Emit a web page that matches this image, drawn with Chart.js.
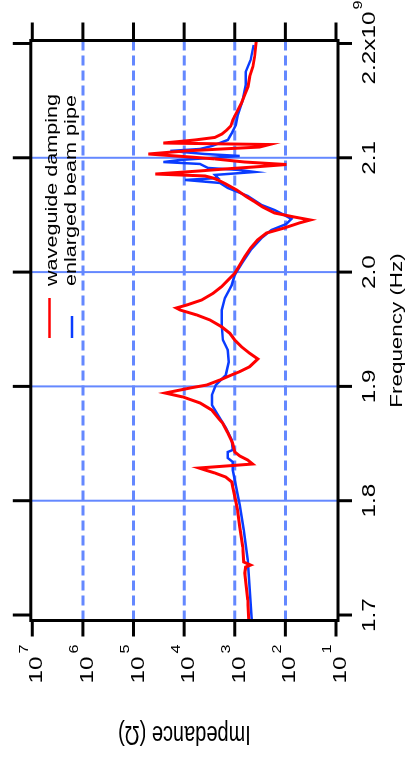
<!DOCTYPE html>
<html>
<head>
<meta charset="utf-8">
<script src="https://cdn.jsdelivr.net/npm/chart.js@4.4.1/dist/chart.umd.min.js"></script>
<style>
    html, body { margin: 0; padding: 0; background: #fff; overflow: hidden; }
    #wrap {
        position: absolute; left: 0; top: 0; width: 760px; height: 406px;
        transform-origin: 0 0; transform: translate(0, 760px) rotate(-90deg);
    }
</style>
</head>
<body>
<div id="wrap"><canvas id="impChart" width="760" height="406"></canvas></div>
<script>
const freqTicks = [1.7, 1.8, 1.9, 2.0, 2.1, 2.2];
const freqTickLabels = ['1.7', '1.8', '1.9', '2.0', '2.1', '2.2x10'];
const freqTickExponent = '9';
const freqGrid = [1.8, 1.9, 2.0, 2.1];
const impTicks = [1e1, 1e2, 1e3, 1e4, 1e5, 1e6, 1e7];
const impExponents = ['1', '2', '3', '4', '5', '6', '7'];
const impGrid = [1e2, 1e3, 1e4, 1e5, 1e6];
const seriesNames = ['waveguide damping', 'enlarged beam pipe'];
const xTitle = 'Frequency (Hz)';
const yTitle = 'Impedance (\u03A9)';

// frequency in GHz, impedance in ohm
const wgFreq = [1.6956, 1.7131, 1.7367, 1.7420, 1.7437, 1.7464, 1.7595, 1.7770, 1.7919, 1.7997,
    1.8120, 1.8164, 1.8207, 1.8242, 1.8269, 1.8286, 1.8321, 1.8356, 1.8391, 1.8426,
    1.8505, 1.8592, 1.8680, 1.8706, 1.8794, 1.8855, 1.8907, 1.8942, 1.8986, 1.9012,
    1.9056, 1.9100, 1.9129, 1.9172, 1.9240, 1.9290, 1.9347, 1.9406, 1.9465, 1.9522,
    1.9581, 1.9625, 1.9668, 1.9686, 1.9712, 1.9756, 1.9815, 1.9872, 1.9931, 1.9990,
    2.0047, 2.0135, 2.0211, 2.0281, 2.0342, 2.0386, 2.0430, 2.0456, 2.0482, 2.0517,
    2.0570, 2.0616, 2.0660, 2.0718, 2.0771, 2.0806, 2.0823, 2.0841, 2.0858, 2.0885,
    2.0902, 2.0920, 2.0941, 2.0963, 2.0990, 2.1007, 2.1033, 2.1060, 2.1077, 2.1094,
    2.1116, 2.1129, 2.1156, 2.1178, 2.1208, 2.1243, 2.1278, 2.1331, 2.1403, 2.1477,
    2.1549, 2.1622, 2.1710, 2.1797, 2.1885, 2.2022];
const wgImp = [531, 556, 637, 609, 486, 666, 697, 798, 885, 956,
    1094, 1145, 1502, 2466, 3876, 5080, 444, 556, 798, 1000,
    1109, 1372, 1743, 1968, 2864, 4858, 10470, 23590, 7630, 3590,
    1968, 1161, 798, 508, 349, 508, 739, 1000, 1253, 1824,
    3090, 5640, 11970, 14350, 8850, 4500, 2663, 1824, 1353, 1000,
    835, 637, 486, 354, 236, 105, 53, 32.3, 66.6, 164,
    282, 405, 590, 914, 1502, 2154, 2700, 3876, 37070, 4858,
    1571, 405, 95.5, 637, 2466, 7630, 50800, 9550, 1799, 323,
    206, 25800, 6085, 2466, 1799, 1435, 1197, 1094, 902, 739,
    637, 548, 508, 438, 405, 376];

const bpFreq = [1.6956, 1.7219, 1.7481, 1.7744, 1.7962, 1.8137, 1.8269, 1.8339, 1.8374, 1.8426,
    1.8444, 1.8531, 1.8636, 1.8750, 1.8837, 1.8925, 1.9012, 1.9100, 1.9213, 1.9318,
    1.9406, 1.9537, 1.9668, 1.9773, 1.9887, 1.9975, 2.0088, 2.0193, 2.0298, 2.0368,
    2.0421, 2.0465, 2.0508, 2.0543, 2.0587, 2.0666, 2.0736, 2.0780, 2.0806, 2.0823,
    2.0850, 2.0876, 2.0893, 2.0911, 2.0946, 2.0963, 2.0981, 2.1016, 2.1033, 2.1060,
    2.1077, 2.1103, 2.1156, 2.1217, 2.1287, 2.1374, 2.1506, 2.1637, 2.1751, 2.1856, 2.1987];
const bpImp = [464, 508, 556, 666, 798, 956, 1094, 1094, 1372, 1372,
    1094, 1145, 1502, 2154, 2825, 2825, 2360, 1502, 1312, 1372,
    1718, 1799, 1799, 1571, 1145, 1000, 697, 486, 296, 188,
    95.5, 76.3, 115, 164, 296, 556, 1372, 1968, 9550, 2154,
    2466, 405, 798, 3380, 4858, 25800, 11970, 798, 3876, 18820,
    4858, 2825, 1372, 1145, 956, 873, 697, 609, 609, 486, 424];

const gridBlue = '#6488ff';
const fontName = '"Liberation Sans", Arial, sans-serif';
const stretch = 1.35;

// text from the old plot is wider than normal, so draw it stretched
function drawText(ctx, text, x, y, size, sx, align) {
    ctx.save();
    ctx.font = `${size}px ${fontName}`;
    ctx.translate(x, y);
    ctx.scale(sx, 1);
    ctx.textAlign = align;
    ctx.textBaseline = 'alphabetic';
    ctx.fillText(text, 0, 0);
    ctx.restore();
}

function textWidth(ctx, text, size, sx) {
    ctx.font = `${size}px ${fontName}`;
    return ctx.measureText(text).width * sx;
}

function seg(ctx, x1, y1, x2, y2) {
    ctx.beginPath();
    ctx.moveTo(x1, y1);
    ctx.lineTo(x2, y2);
    ctx.stroke();
}

const frameDeco = {
    id: 'frameDeco',
    beforeDatasetsDraw(chart) {
        const { ctx, chartArea: a, scales: { x, y } } = chart;
        ctx.save();
        ctx.strokeStyle = gridBlue;
        ctx.lineWidth = 2;
        freqGrid.forEach(f => {
            const px = x.getPixelForValue(f);
            seg(ctx, px, a.top, px, a.bottom);
        });
        ctx.lineWidth = 3;
        ctx.setLineDash([10, 5]);
        impGrid.forEach(z => {
            const py = y.getPixelForValue(z);
            seg(ctx, a.left, py, a.right, py);
        });
        ctx.restore();
    },
    afterDatasetsDraw(chart) {
        const { ctx, chartArea: a, scales: { x, y } } = chart;
        ctx.save();
        ctx.strokeStyle = '#000';
        ctx.fillStyle = '#000';
        ctx.lineWidth = 3;
        ctx.strokeRect(a.left, a.top, a.right - a.left, a.bottom - a.top);

        freqTicks.forEach((f, i) => {
            const px = x.getPixelForValue(f);
            seg(ctx, px, a.bottom, px, a.bottom + 14);
            seg(ctx, px, a.top, px, a.top - 18);
            const base = freqTickLabels[i];
            const exp = i === freqTicks.length - 1 ? freqTickExponent : '';
            const wb = textWidth(ctx, base, 18, stretch);
            const we = exp ? textWidth(ctx, exp, 12, stretch) : 0;
            const start = px - (wb + we) / 2;
            drawText(ctx, base, start, a.bottom + 37, 18, stretch, 'left');
            if (exp) {
                drawText(ctx, exp, start + wb + 2, a.bottom + 24, 12, stretch, 'left');
            }
        });

        impTicks.forEach((z, i) => {
            const py = y.getPixelForValue(z);
            seg(ctx, a.left, py, a.left - 16, py);
            seg(ctx, a.right, py, a.right + 18, py);
            drawText(ctx, '10', a.left - 36, py + 10, 18, stretch, 'right');
            drawText(ctx, impExponents[i], a.left - 33, py - 4.5, 12, stretch, 'left');
        });

        // axis titles
        drawText(ctx, xTitle, (a.left + a.right) / 2, a.bottom + 63.5, 16, 1.4, 'center');
        ctx.save();
        ctx.translate(34.3, (a.top + a.bottom) / 2);
        ctx.rotate(-Math.PI / 2);
        ctx.scale(1, stretch);
        ctx.font = `20px ${fontName}`;
        ctx.textAlign = 'center';
        ctx.fillText(yTitle, 0, 0);
        ctx.restore();

        // legend inside the plot
        const colors = chart.data.datasets.map(d => d.borderColor);
        const lineEnds = [462, 444];
        const lineRows = [49.5, 72];
        const textRows = [56.6, 76.3];
        ctx.lineWidth = 2.5;
        seriesNames.forEach((name, i) => {
            ctx.strokeStyle = colors[i];
            seg(ctx, 422, lineRows[i], lineEnds[i], lineRows[i]);
            drawText(ctx, name, 474, textRows[i], 16, stretch, 'left');
        });
        ctx.restore();
    }
};

const ele = document.getElementById('impChart');
new Chart(ele.getContext('2d'), {
    type: 'line',
    data: {
        datasets: [
            {
                label: seriesNames[0],
                data: wgFreq.map((f, i) => ({ x: f, y: wgImp[i] })),
                borderColor: '#ff0000',
                borderWidth: 3,
                pointRadius: 0,
                tension: 0,
                fill: false
            },
            {
                label: seriesNames[1],
                data: bpFreq.map((f, i) => ({ x: f, y: bpImp[i] })),
                borderColor: '#0a3cff',
                borderWidth: 2.5,
                pointRadius: 0,
                tension: 0,
                fill: false
            }
        ]
    },
    options: {
        responsive: false,
        animation: false,
        layout: {
            padding: { left: 139.5, right: 40.5, top: 30.8, bottom: 68 }
        },
        plugins: {
            legend: { display: false },
            tooltip: { enabled: false }
        },
        scales: {
            x: { type: 'linear', min: 1.6952, max: 2.2026, display: false },
            y: { type: 'logarithmic', min: 9.13, max: 1.07e7, display: false }
        }
    },
    plugins: [frameDeco]
});
</script>
</body>
</html>
